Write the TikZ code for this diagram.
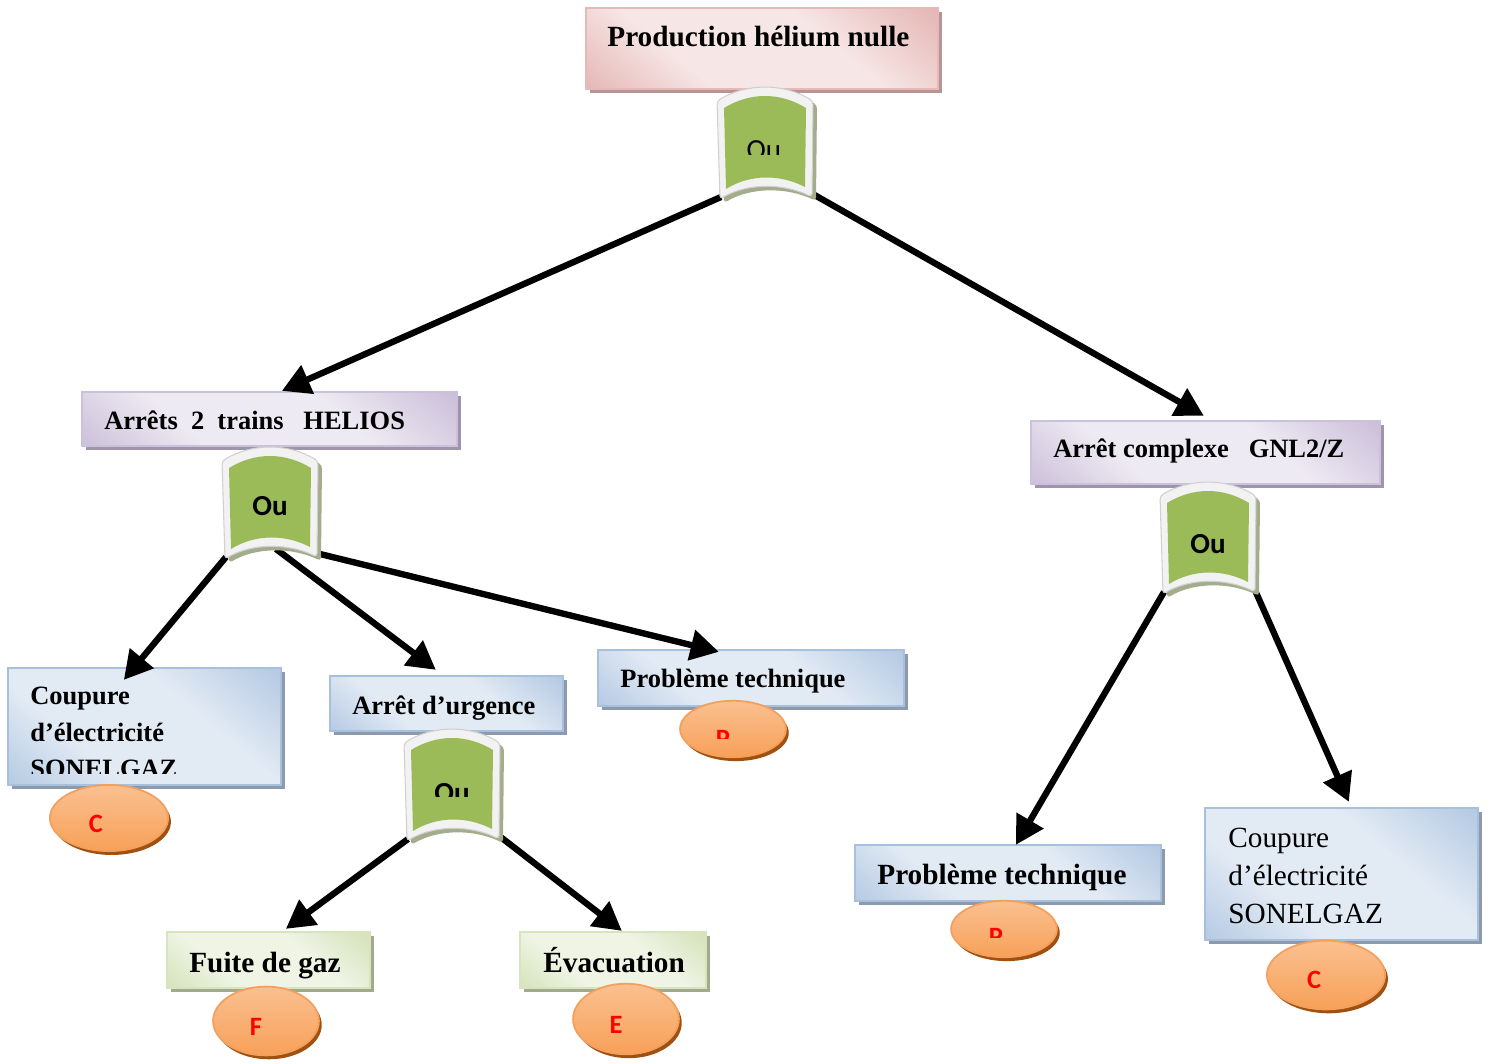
\documentclass[tikz,border=0pt]{standalone}
\usepackage{fontspec}
\setmainfont{Liberation Serif}
\newfontfamily\letterfont{Carlito}
\usetikzlibrary{arrows.meta,shapes.geometric,fit,shadows,calc}

% palette
\definecolor{pinkD}{HTML}{D99694}
\definecolor{pinkL}{HTML}{F6E6E5}
\definecolor{pinkE}{HTML}{E6B9B8}
\definecolor{pinkS}{HTML}{B89494}
\definecolor{lilaD}{HTML}{B3A2C7}
\definecolor{lilaL}{HTML}{EEEAF3}
\definecolor{lilaE}{HTML}{CCC1DA}
\definecolor{lilaS}{HTML}{9E94AC}
\definecolor{bluD}{HTML}{95B3D7}
\definecolor{bluL}{HTML}{E2EAF4}
\definecolor{bluE}{HTML}{A7C0DE}
\definecolor{bluS}{HTML}{8C9AAC}
\definecolor{grnD}{HTML}{C3D69B}
\definecolor{grnL}{HTML}{EFF4E5}
\definecolor{grnE}{HTML}{D7E4BD}
\definecolor{grnS}{HTML}{A2AA8E}
\definecolor{gateG}{HTML}{9BBB59}
\definecolor{gateS}{HTML}{A3AD8B}
\definecolor{gateW}{HTML}{F2F2F2}
\definecolor{gateWE}{HTML}{D0D0D0}
\definecolor{ornD}{HTML}{F79646}
\definecolor{ornL}{HTML}{FAC090}
\definecolor{ornE}{HTML}{F3A05E}
\definecolor{ornS}{HTML}{A0500F}

% box fills: darker at both ends, broad light band across the middle
\pgfdeclareverticalshading{pinkfill}{100bp}{color(0bp)=(pinkD); color(35bp)=(pinkL); color(62bp)=(pinkL); color(100bp)=(pinkD)}
\pgfdeclareverticalshading{lilafill}{100bp}{color(0bp)=(lilaD); color(35bp)=(lilaL); color(62bp)=(lilaL); color(100bp)=(lilaD)}
\pgfdeclareverticalshading{blufill}{100bp}{color(0bp)=(bluD); color(35bp)=(bluL); color(62bp)=(bluL); color(100bp)=(bluD)}
\pgfdeclareverticalshading{grnfill}{100bp}{color(0bp)=(grnD); color(35bp)=(grnL); color(62bp)=(grnL); color(100bp)=(grnD)}

\newcommand\txtS{\fontsize{15}{18}\selectfont\bfseries}
\newcommand\txtL{\fontsize{16.6}{20}\selectfont\bfseries}
\newcommand\txtR{\fontsize{16.6}{20}\selectfont}
\newcommand\gateouter{(-48,-42) .. controls (-18,-60) and (18,-60) .. (48,-42) -- (47,54) .. controls (18,40) and (-18,40) .. (-45,56) -- cycle}
\newcommand\gateinner{(-41,-35) .. controls (-15,-51) and (15,-51) .. (41,-35) -- (40,44) .. controls (15,31) and (-15,31) .. (-39,46) -- cycle}

\pgfdeclarelayer{front}
\pgfsetlayers{main,front}

\tikzset{
  box/.style={rectangle, inner sep=0pt, line width=1.3pt, draw=#1E,
    general shadow={fill=#1S, shadow xshift=2.3pt, shadow yshift=-2.3pt},
    shade, shading=#1fill, shading angle=-40},
  leaf/.style={ellipse, inner sep=0pt, line width=1pt, draw=ornE,
    general shadow={fill=ornS, shadow xshift=1.6pt, shadow yshift=-2.2pt},
    top color=ornL, middle color=ornD, bottom color=ornD!75!ornL},
  lbl/.style={anchor=base west, inner sep=0pt},
  ltr/.style={anchor=base, inner sep=0pt, text=red, font=\letterfont\fontsize{15}{18}\selectfont\bfseries},
  gatetxt/.style={anchor=base, inner sep=0pt, font=\letterfont\fontsize{16.5}{20}\selectfont\bfseries},
  conn/.style={line width=3.6pt, -{Triangle[length=16pt,width=17pt]}},
  gate/.pic={
    \fill[gateS, shift={(4,4)}, rounded corners=2pt] \gateouter;
    \filldraw[fill=gateW, draw=gateWE, line width=0.6pt, rounded corners=2pt] \gateouter;
    \fill[gateG] \gateinner;
    \coordinate (-bl) at (-44,54);
    \coordinate (-bc) at (6,46);
    \coordinate (-br) at (46,50);
  }
}

\begin{document}
\begin{tikzpicture}[x=0.5669pt, y=-0.5669pt]
\useasboundingbox (0,0) rectangle (1491,1064);

% ---- event boxes
\node[box=pink, fit={(586,8)(938,89)}] (top) {};
\node[lbl, font=\txtL] (top-t) at (607,47) {Production hélium nulle};

\node[box=lila, fit={(82,392)(457,446)}] (helios) {};
\node[lbl, font=\txtS] (helios-t) at (104,429) {Arrêts~~2~~trains~~~HELIOS};

\node[box=lila, fit={(1031,421)(1380,484)}] (gnl) {};
\node[lbl, font=\txtS] (gnl-t) at (1053,457) {Arrêt complexe~~~GNL2/Z};

\node[box=blu, fit={(8,668)(281,785)}] (coupL) {};
\node[lbl, font=\txtS] (coupL-t1) at (30,704) {Coupure};
\node[lbl, font=\txtS] (coupL-t2) at (30,741) {d’électricité};
\begin{scope}
  \clip (8,668) rectangle (281,773);
  \node[lbl, font=\txtS] (coupL-t3) at (30,777) {SONELGAZ};
\end{scope}

\node[box=blu, fit={(330,676)(563,731)}] (urg) {};
\node[lbl, font=\txtS] (urg-t) at (352,714) {Arrêt d’urgence};

\node[box=blu, fit={(598,650)(904,706)}] (probM) {};
\node[lbl, font=\txtS] (probM-t) at (620,687) {Problème technique};

\node[box=blu, fit={(855,845)(1161,901)}] (probR) {};
\node[lbl, font=\txtL] (probR-t) at (877,884) {Problème technique};

\node[box=blu, fit={(1205,808)(1478,940)}] (coupR) {};
\node[lbl, font=\txtR] (coupR-t1) at (1228,847) {Coupure};
\node[lbl, font=\txtR] (coupR-t2) at (1228,885) {d’électricité};
\node[lbl, font=\txtR] (coupR-t3) at (1228,923) {SONELGAZ};

\node[box=grn, fit={(167,932)(370,988)}] (fuite) {};
\node[lbl, font=\txtL] (fuite-t) at (189,972) {Fuite de gaz};

\node[box=grn, fit={(520,932)(706,988)}] (evac) {};
\node[lbl, font=\txtL] (evac-t) at (543,972) {Évacuation};

% ---- basic events
\node[leaf, minimum width=67pt, minimum height=37.5pt] (cL) at (109,818) {};
\node[ltr] (cL-t) at (96,832) {C};

\node[leaf, minimum width=60pt, minimum height=32pt] (pM) at (733,729) {};
\begin{scope}
  \clip (650,690) rectangle (800,738);
  \node[ltr] (pM-t) at (723,747) {P};
\end{scope}

\node[leaf, minimum width=60pt, minimum height=32pt] (pR) at (1004,929) {};
\begin{scope}
  \clip (930,890) rectangle (1080,937);
  \node[ltr] (pR-t) at (996,945) {P};
\end{scope}

\node[leaf, minimum width=67pt, minimum height=39pt] (cR) at (1326,975) {};
\node[ltr] (cR-t) at (1314,988) {C};

\node[leaf, minimum width=60pt, minimum height=39pt] (fF) at (266,1021) {};
\node[ltr] (fF-t) at (256,1035) {F};

\node[leaf, minimum width=60pt, minimum height=40pt] (eE) at (626,1019) {};
\node[ltr] (eE-t) at (616,1033) {E};

% ---- OR gates (on top of the connectors)
\begin{pgfonlayer}{front}
  \pic (g1) at (765,143) {gate};
  \pic (g2) at (270,503) {gate};
  \pic (g3) at (1208,538) {gate};
  \pic (g4) at (452,785) {gate};
  \begin{scope}
    \clip (700,100) rectangle (830,155);
    \node[gatetxt, font=\letterfont\fontsize{16.5}{20}\selectfont] (g1-t) at (764,160) {Ou};
  \end{scope}
  \node[gatetxt] (g2-t) at (270,515) {Ou};
  \node[gatetxt] (g3-t) at (1208,553) {Ou};
  \begin{scope}
    \clip (400,740) rectangle (510,796);
    \node[gatetxt] (g4-t) at (452,802) {Ou};
  \end{scope}
\end{pgfonlayer}

% ---- connectors
\draw[conn] (g1-bl) -- ($(helios.north west)+(201,0)$);
\draw[conn] (g1-br) -- ($(gnl.north west)+(174,-4)$);
\draw[conn] (g2-bl) -- ($(coupL.north west)+(117,13)$);
\draw[conn] (g2-bc) -- ($(urg.north west)+(107,-5)$);
\draw[conn] (g2-br) -- ($(probM.north west)+(122,3)$);
\draw[conn] (g3-bl) -- ($(probR.north west)+(162,1)$);
\draw[conn] (g3-br) -- ($(coupR.north west)+(145,-5)$);
\draw[conn] (g4-bl) -- ($(fuite.north west)+(120,-2)$);
\draw[conn] (g4-br) -- ($(evac.north west)+(103,0)$);
\end{tikzpicture}
\end{document}
